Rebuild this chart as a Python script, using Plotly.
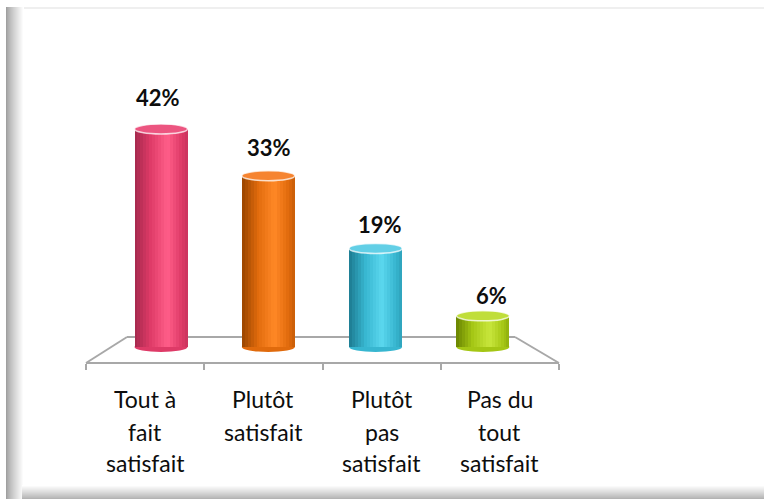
import plotly.graph_objects as go

# ---------------- data ----------------
categories = ["Tout à fait satisfait", "Plutôt satisfait", "Plutôt pas satisfait", "Pas du tout satisfait"]
category_lines = [["Tout à", "fait", "satisfait"],
                  ["Plutôt", "satisfait"],
                  ["Plutôt", "pas", "satisfait"],
                  ["Pas du", "tout", "satisfait"]]
values = [42, 33, 19, 6]
value_labels = ["42%", "33%", "19%", "6%"]

# colour stops per bar: dark edge, body, highlight
dark_cols = ["#a3284c", "#9a4600", "#1d7a90", "#688300"]
base_cols = ["#de3a67", "#e06a0c", "#37b6d0", "#a4c614"]
high_cols = ["#ff5e89", "#ff8826", "#5cd8ef", "#c8e63c"]
cap_cols = ["#ec5580", "#f68430", "#62cfe6", "#c0de3a"]

W, H = 764, 499
# pixel geometry of the plot (layout only)
PX0, PXSTEP = 161.0, 107.3      # first bar centre, spacing
PY0, PYUNIT = 347.0, 5.19       # zero line, pixels per %
BAR_W = 53 / PXSTEP
ELL = 5 / PYUNIT                # half-height of cylinder ellipses


def hex2rgb(h):
    h = h.lstrip("#")
    return [int(h[i:i + 2], 16) for i in (0, 2, 4)]


def mix(c1, c2, t):
    a, b = hex2rgb(c1), hex2rgb(c2)
    return "rgb(%d,%d,%d)" % tuple(round(a[i] + (b[i] - a[i]) * t) for i in range(3))


def grad(i, t):
    d, b, h = dark_cols[i], base_cols[i], high_cols[i]
    stops = [(0.0, d, d), (0.3, d, b), (0.62, b, h), (0.88, h, b), (1.0, b, d)]
    for k in range(1, len(stops)):
        t0 = stops[k - 1][0]
        t1 = stops[k][0]
        if t <= t1:
            u = (t - t0) / (t1 - t0)
            c_from = stops[k][1]
            c_to = stops[k][2]
            if k == len(stops) - 1:
                return mix(c_from, c_to, u * 0.35)
            return mix(c_from, c_to, u)
    return b


fig = go.Figure()
x_idx = list(range(len(values)))

N = 18
for k in range(N):
    t = (k + 0.5) / N
    off = -BAR_W / 2 + k * BAR_W / N
    fig.add_trace(go.Bar(
        x=x_idx, y=values,
        width=BAR_W - k * BAR_W / N, offset=off,
        marker=dict(color=[grad(i, t) for i in x_idx], line=dict(width=0)),
        hoverinfo="skip", showlegend=False,
    ))

# invisible trace that carries the floor front axis
fig.add_trace(go.Scatter(x=x_idx, y=[None] * len(values), xaxis="x2", yaxis="y",
                         mode="markers", marker=dict(opacity=0), hoverinfo="skip",
                         showlegend=False))

shapes = []
# frame: top faint line, left and bottom soft bands
shapes.append(dict(type="rect", xref="paper", yref="paper", x0=6 / W, x1=1, y0=1 - 7 / H, y1=1 - 9 / H,
                   fillcolor="#efefef", line=dict(width=0), layer="below"))
for p in range(0, 18):
    t = p / 17
    shapes.append(dict(type="rect", xref="paper", yref="paper",
                       x0=(6 + p) / W, x1=(7 + p) / W, y0=0, y1=1 - 7 / H,
                       fillcolor=mix("#a0a0a0", "#ffffff", t ** 0.8), line=dict(width=0), layer="below"))
for p in range(0, 14):
    t = p / 13
    shapes.append(dict(type="rect", xref="paper", yref="paper",
                       x0=22 / W, x1=1,
                       y0=1 - (499 - p) / H, y1=1 - (498 - p) / H,
                       fillcolor=mix("#b3b3b3", "#ffffff", t ** 0.9), line=dict(width=0), layer="below"))

# floor (back edge and sides)
floor_col = "#a8a8a8"
for (xa, ya, xb, yb) in [(86, 363, 127, 337), (127, 337, 515, 337), (515, 337, 559, 363)]:
    shapes.append(dict(type="line", xref="paper", yref="paper",
                       x0=xa / W, y0=1 - ya / H, x1=xb / W, y1=1 - yb / H,
                       line=dict(color=floor_col, width=2), layer="below"))

# cylinder bottoms and tops
for i, v in enumerate(values):
    shapes.append(dict(type="circle", xref="x", yref="y",
                       x0=i - BAR_W / 2, x1=i + BAR_W / 2, y0=-ELL, y1=ELL,
                       fillcolor=base_cols[i], line=dict(width=0), layer="below"))
    shapes.append(dict(type="circle", xref="x", yref="y",
                       x0=i - BAR_W / 2, x1=i + BAR_W / 2, y0=v - ELL, y1=v + ELL,
                       fillcolor=cap_cols[i], line=dict(color="rgba(255,255,255,0.75)", width=1.5),
                       layer="above"))

annotations = []
for i, (v, lab) in enumerate(zip(values, value_labels)):
    annotations.append(dict(x=i, y=v, xref="x", yref="y", text=lab, showarrow=False,
                            yanchor="middle", xanchor="center",
                            yshift=18.5 + 0.308 * v, xshift=-3 + 3.8 * i,
                            font=dict(family="Lato", size=22, color="#0d0d0d", weight="bold")))

line_centres = [399, 432, 463]
for i, lines in enumerate(category_lines):
    for j, txt in enumerate(lines):
        annotations.append(dict(x=i, y=1 - line_centres[j] / H, xref="x2", yref="paper",
                                text=txt, showarrow=False, xanchor="center", yanchor="middle",
                                font=dict(family="Lato", size=23, color="#0d0d0d")))

fig.update_layout(
    width=W, height=H,
    margin=dict(l=0, r=0, t=0, b=0),
    paper_bgcolor="white", plot_bgcolor="rgba(0,0,0,0)",
    barmode="overlay", bargap=0,
    showlegend=False,
    xaxis=dict(range=[-PX0 / PXSTEP, (W - PX0) / PXSTEP], domain=[0, 1], visible=False, fixedrange=True),
    yaxis=dict(range=[-(H - PY0) / PYUNIT, PY0 / PYUNIT], domain=[0, 1], visible=False, fixedrange=True),
    xaxis2=dict(domain=[86 / W, 559 / W], anchor="free", position=1 - 363 / H,
                range=[-0.5, len(values) - 0.5], tickvals=[k - 0.5 for k in range(len(values) + 1)],
                ticks="outside", ticklen=6, tickwidth=2, tickcolor=floor_col,
                showline=True, linecolor=floor_col, linewidth=2,
                showticklabels=False, showgrid=False, zeroline=False, fixedrange=True),
    shapes=shapes,
    annotations=annotations,
)

fig.write_html("out.html", config={"displayModeBar": False},
               post_script="document.body.style.margin='0';document.body.style.overflow='hidden';")
